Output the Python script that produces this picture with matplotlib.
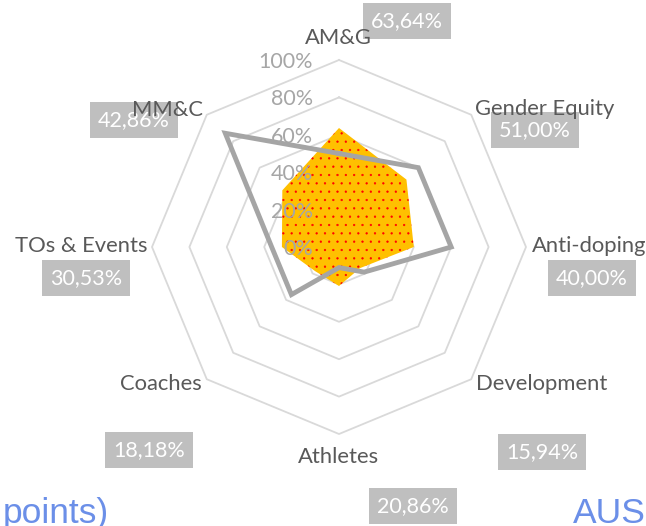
import numpy as np
import matplotlib
matplotlib.use("Agg")
import matplotlib.pyplot as plt

plt.rcParams["hatch.linewidth"] = 0.4

# ---- data ----
categories = ["AM&G", "Gender Equity", "Anti-doping", "Development",
              "Athletes", "Coaches", "TOs & Events", "MM&C"]
series_fill = [63.64, 51.00, 40.00, 15.94, 20.86, 18.18, 30.53, 42.86]
series_line = [50, 60, 60, 19, 11, 36, 36, 86]
ring_levels = [20, 40, 60, 80, 100]
tick_levels = [0, 20, 40, 60, 80, 100]
data_label_texts = ["63,64%", "51,00%", "40,00%", "15,94%",
                    "20,86%", "18,18%", "30,53%", "42,86%"]

# ---- layout / style (pixels, top-left origin) ----
W, H, DPI = 646, 526, 100
cx, cy, R = 339, 247, 187
cat_label_px = [(338, 38), (545, 109), (589, 246), (542, 384),
                (339, 457), (161, 384), (81, 246), (167, 110)]
data_label_px = [(407, 21), (535, 130), (592, 278), (542, 452),
                 (413, 506), (149, 450), (86, 278), (134, 120)]

FONT = ["Lato", "DejaVu Sans"]
fig = plt.figure(figsize=(W / DPI, H / DPI), dpi=DPI)
ax = fig.add_axes([(cx - R) / W, (H - cy - R) / H, 2 * R / W, 2 * R / H],
                  projection="polar")
ax.set_theta_zero_location("N")
ax.set_theta_direction(-1)
ax.set_ylim(0, 100)
ax.set_xticks([])
ax.set_yticks([])
ax.grid(False)
ax.spines["polar"].set_visible(False)
ax.patch.set_alpha(0)

n = len(categories)
theta = np.linspace(0, 2 * np.pi, n, endpoint=False)
theta_c = np.append(theta, theta[0])

for r in ring_levels:
    ax.plot(theta_c, [r] * (n + 1), color="#D9D9D9", lw=1.3, zorder=1,
            clip_on=False)

vals_f = np.append(series_fill, series_fill[0])
ax.fill(theta_c, vals_f, facecolor="#FFC000", edgecolor="none", lw=0, zorder=2)
ax.fill(theta_c, vals_f, facecolor="none", edgecolor="#FF0000", lw=0,
        hatch="..", zorder=2.1)

for r in tick_levels:
    ax.annotate(f"{r}%", xy=(0, r), xytext=(-26, -2), textcoords="offset pixels",
                ha="right", va="center", color="#A6A6A6", fontsize=15.5,
                family=FONT, zorder=3, annotation_clip=False)

vals_l = np.append(series_line, series_line[0])
ax.plot(theta_c, vals_l, color="#A5A5A5", lw=3.5, zorder=4, clip_on=False,
        solid_joinstyle="miter")

for i, name in enumerate(categories):
    px, py = cat_label_px[i]
    ax.annotate(name, xy=(theta[i], 100), xytext=(px, H - py),
                textcoords="figure pixels", ha="center", va="center",
                color="#595959", fontsize=15.8, family=FONT, zorder=6,
                annotation_clip=False)

for i, txt in enumerate(data_label_texts):
    px, py = data_label_px[i]
    ax.annotate(txt, xy=(theta[i], series_fill[i]), xytext=(px, H - py),
                textcoords="figure pixels", ha="center", va="center",
                color="white", fontsize=15.5, family=FONT, zorder=5,
                annotation_clip=False,
                bbox=dict(boxstyle="square,pad=0.36", fc="#BFBFBF", ec="none"))

fig.text(3 / W, 3 / H, "points)", color="#6B8FE8", fontsize=25.5,
         family=["Liberation Sans", "DejaVu Sans"], ha="left", va="baseline")
fig.text(573 / W, 3 / H, "AUS", color="#6B8FE8", fontsize=25.5,
         family=["Liberation Sans", "DejaVu Sans"], ha="left", va="baseline")

fig.savefig("out.png", dpi=DPI)
